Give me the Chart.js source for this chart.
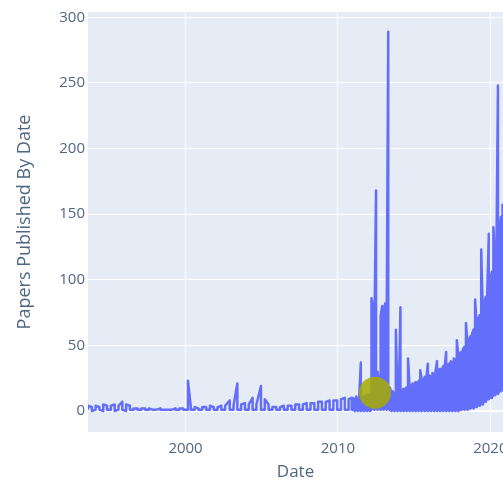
<!DOCTYPE html>
<html><head><meta charset="utf-8">
<script src="https://cdn.jsdelivr.net/npm/chart.js@4"></script>
<style>html,body{margin:0;padding:0;background:#fff;overflow:hidden}#wrap{width:503px;height:482px;position:relative}</style>
</head><body><div id="wrap"><canvas id="c" width="503" height="482"></canvas></div>
<script>
// Decimal-year sample dates, with the low and high values the daily line swings between
const dates = [
 1993.60,1993.85,1994.10,1994.35,1994.60,1994.85,1995.10,1995.35,1995.60,1995.85,
 1996.10,1996.35,1996.60,1996.85,1997.10,1997.35,1997.60,1997.85,1998.10,1998.35,
 1998.60,1998.85,1999.10,1999.35,1999.60,1999.85,2000.16,2000.35,2000.60,2000.85,
 2001.10,2001.35,2001.60,2001.85,2002.10,2002.35,2002.60,2002.90,2003.15,2003.40,
 2003.65,2003.90,2004.15,2004.40,2004.65,2004.95,2005.20,2005.45,2005.70,2005.95,
 2006.20,2006.45,2006.70,2006.95,2007.20,2007.45,2007.70,2007.95,2008.20,2008.45,
 2008.70,2008.95,2009.20,2009.45,2009.70,2009.95,2010.20,2010.45,2010.70,2010.90,
 2011.0,2011.1,2011.2,2011.3,2011.4,2011.5,2011.6,2011.7,2011.8,2011.9,
 2012.0,2012.1,2012.2,2012.3,2012.4,2012.5,2012.6,2012.7,2012.8,2012.9,
 2013.0,2013.1,2013.2,2013.3,2013.4,2013.5,2013.6,2013.7,2013.8,2013.9,
 2014.0,2014.1,2014.2,2014.3,2014.4,2014.5,2014.6,2014.7,2014.8,2014.9,
 2015.0,2015.1,2015.2,2015.3,2015.4,2015.5,2015.6,2015.7,2015.8,2015.9,
 2016.0,2016.1,2016.2,2016.3,2016.4,2016.5,2016.6,2016.7,2016.8,2016.9,
 2017.0,2017.1,2017.2,2017.3,2017.4,2017.5,2017.6,2017.7,2017.8,2017.9,
 2018.0,2018.1,2018.2,2018.3,2018.4,2018.5,2018.6,2018.7,2018.8,2018.9,
 2019.0,2019.1,2019.2,2019.3,2019.4,2019.5,2019.6,2019.7,2019.8,2019.9,
 2020.0,2020.1,2020.2,2020.3,2020.4,2020.5,2020.6,2020.7,2020.8
];
const lows = [
 1,0,1,1,0,1,1,0,1,1,
 0,1,1,1,1,1,1,1,1,1,
 1,1,1,1,1,1,1,1,1,1,
 1,1,1,1,1,1,1,1,1,1,
 1,1,1,1,1,1,1,1,1,1,
 1,1,1,1,1,1,1,1,1,1,
 1,1,1,1,1,1,1,1,1,1,
 1,0,1,0,1,0,1,0,1,0,
 1,0,1,2,1,2,1,2,1,2,
 1,2,1,2,1,0,1,0,1,0,
 1,0,1,0,1,0,1,0,1,0,
 1,0,1,0,1,0,1,0,1,0,
 1,0,1,0,1,0,1,0,1,0,
 1,0,1,0,1,0,1,0,1,0,
 1,1,2,1,2,1,2,2,3,2,
 4,3,5,4,6,5,8,7,10,9,
 11,10,13,12,14,13,16,15,17
];
const highs = [
 4,3,4,3,5,4,4,5,4,7,
 5,4,2,2,2,2,2,1,1,2,
 1,1,1,2,2,2,23,3,3,2,
 3,3,4,3,3,4,4,8,4,21,
 5,6,5,10,5,19,9,5,3,3,
 3,4,4,4,5,5,5,6,6,6,
 7,7,7,8,8,8,9,10,9,10,
 10,8,11,9,12,37,11,10,12,11,
 13,12,86,78,70,168,30,20,72,80,
 76,82,70,289,18,14,15,13,62,15,
 14,79,15,17,16,18,40,19,18,21,
 20,22,21,23,31,24,23,26,25,36,
 27,26,29,28,30,38,31,32,31,34,
 33,45,35,36,38,37,40,39,54,42,
 44,45,47,49,67,52,54,57,59,62,
 85,66,70,73,123,78,82,87,92,135,
 100,106,140,114,122,248,138,148,158
];
const xTicks = [2000, 2010, 2020];
const yTicks = [0, 50, 100, 150, 200, 250, 300];
const markerDates = [2012.43];
const markerValues = [14];
const xTitle = 'Date';
const yTitle = 'Papers Published By Date';

// Each sample date contributes its low and high; the order alternates so the
// line traces the swing band like the dense daily series does.
const linePoints = [];
dates.forEach((d, i) => {
  if (i % 2 === 0) {
    linePoints.push({x: d, y: lows[i]});
    linePoints.push({x: d, y: highs[i]});
  } else {
    linePoints.push({x: d, y: highs[i]});
    linePoints.push({x: d, y: lows[i]});
  }
});
const markerPoints = markerDates.map((d, i) => ({x: d, y: markerValues[i]}));

const FONT = "'Open Sans', 'DejaVu Sans', sans-serif";
const TXT = '#506784';

const bgPlugin = {
  id: 'bg',
  beforeDraw(chart) {
    const {ctx, chartArea: a, width, height} = chart;
    ctx.save();
    ctx.fillStyle = '#ffffff';
    ctx.fillRect(0, 0, width, height);
    ctx.fillStyle = '#E5ECF6';
    ctx.fillRect(a.left, a.top, a.right - a.left, a.bottom - a.top);
    ctx.restore();
  }
};

new Chart(document.getElementById('c'), {
  type: 'scatter',
  data: {
    datasets: [
      {
        data: markerPoints,
        order: 0,
        showLine: false,
        pointRadius: 16,
        pointHoverRadius: 16,
        pointBorderWidth: 0,
        backgroundColor: 'rgba(165,172,0,0.85)',
        borderColor: 'rgba(165,172,0,0.85)'
      },
      {
        data: linePoints,
        order: 1,
        showLine: true,
        borderColor: '#636EFA',
        backgroundColor: '#636EFA',
        borderWidth: 2.5,
        borderJoinStyle: 'round',
        pointRadius: 0,
        pointHoverRadius: 0,
        tension: 0
      }
    ]
  },
  options: {
    responsive: false,
    animation: false,
    devicePixelRatio: 1,
    layout: {autoPadding: false, padding: {left: 0, right: 0, top: 12, bottom: 0}},
    plugins: {legend: {display: false}, tooltip: {enabled: false}},
    scales: {
      x: {
        type: 'linear',
        min: 1993.6,
        max: 2020.83,
        afterBuildTicks: s => { s.ticks = xTicks.map(v => ({value: v})); },
        afterFit: s => { s.height = 50; s.paddingLeft = 0; s.paddingRight = 0; },
        ticks: {
          autoSkip: false, maxRotation: 0, padding: 8,
          color: TXT, font: {family: FONT, size: 15},
          callback: v => String(v)
        },
        grid: {color: '#ffffff', lineWidth: 1, drawTicks: false},
        border: {display: false},
        title: {display: true, text: xTitle, color: TXT, font: {family: FONT, size: 17}, padding: {top: 0, bottom: 0}}
      },
      y: {
        min: -16,
        max: 304,
        afterBuildTicks: s => { s.ticks = yTicks.map(v => ({value: v})); },
        afterFit: s => { s.width = 88; },
        ticks: {
          padding: 3,
          color: TXT, font: {family: FONT, size: 15},
          callback: v => String(v)
        },
        grid: {color: '#ffffff', lineWidth: c => (c.tick && c.tick.value === 0 ? 2 : 1), drawTicks: false},
        border: {display: false},
        title: {display: true, text: yTitle, color: TXT, font: {family: FONT, size: 18}, padding: {top: 14, bottom: 0}}
      }
    }
  },
  plugins: [bgPlugin]
});
</script>
</body></html>
